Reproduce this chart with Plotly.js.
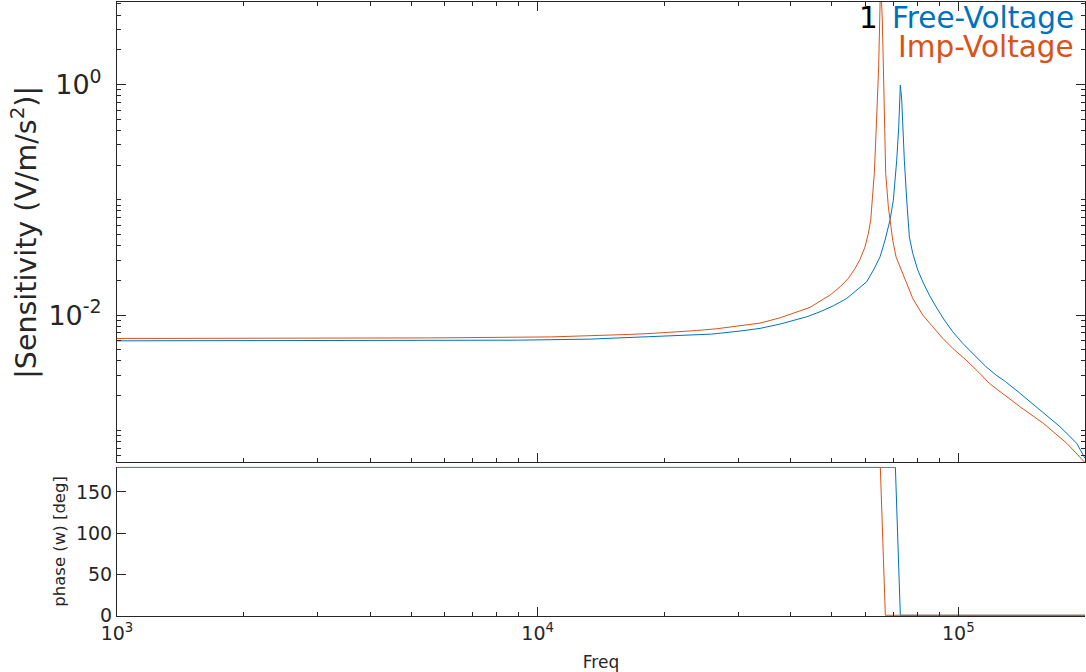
<!DOCTYPE html>
<html>
<head>
<meta charset="utf-8">
<script src="https://cdn.plot.ly/plotly-3.0.1.min.js"></script>
<style>html,body{margin:0;padding:0;background:#fff;}#chart{width:1086px;height:672px;}</style>
</head>
<body>
<div id="chart"></div>
<script>
// ---- Data ----
const freqFree = [1000, 8960, 13310, 17030, 22180, 25910, 30260, 33770, 37670, 40510, 43600, 46900, 50440, 54280, 57340, 60550, 62820, 65130, 66940, 68160, 68790, 70050, 71370, 72150, 72540, 72790, 73350, 73750, 74400, 75380, 76470, 77910, 80080, 82300, 85320, 88500, 92630, 96980, 102440, 109160, 116370, 122900, 129370, 140200, 156400, 174500, 191200, 200000];
const magFree  = [0.00598, 0.00606, 0.00619, 0.00640, 0.00661, 0.00684, 0.00727, 0.00767, 0.008356, 0.008925, 0.009667, 0.01068, 0.01204, 0.01395, 0.01647, 0.01944, 0.02455, 0.0320, 0.04468, 0.05829, 0.0667, 0.0994, 0.2209, 0.4296, 0.7322, 0.988, 0.7322, 0.4296, 0.2209, 0.0994, 0.04773, 0.03426, 0.02455, 0.01944, 0.01491, 0.01180, 0.009051, 0.007164, 0.005684, 0.004499, 0.003562, 0.003019, 0.002652, 0.002094, 0.001501, 0.001075, 0.000771, 0.000572];

const freqImp = [1000, 5560, 10790, 14060, 16560, 18820, 20970, 23880, 26630, 29720, 33770, 37670, 39790, 42030, 44390, 46900, 49540, 52330, 54760, 56810, 58380, 60000, 61100, 61900, 62230, 63120, 63710, 64300, 64650, 65010, 65310, 65960, 66310, 66680, 67190, 68160, 68800, 69820, 71100, 73080, 75110, 77910, 82300, 86930, 91820, 96980, 104300, 112200, 118530, 123600, 140200, 159300, 181100, 200000];
const magImp  = [0.00627, 0.00634, 0.00647, 0.00664, 0.00680, 0.00695, 0.00710, 0.00735, 0.00761, 0.00800, 0.00852, 0.009475, 0.01014, 0.01090, 0.01166, 0.01322, 0.01491, 0.01759, 0.02080, 0.02540, 0.03040, 0.03909, 0.05108, 0.06664, 0.0870, 0.1694, 0.3765, 0.782, 1.424, 3.62, 8.0, 3.62, 1.424, 0.3765, 0.1694, 0.0870, 0.0666, 0.04468, 0.0320, 0.02455, 0.01944, 0.01395, 0.0100, 0.00792, 0.006281, 0.005144, 0.004072, 0.00315, 0.002557, 0.002270, 0.001602, 0.00115, 0.000772, 0.000525];

const phaseFreqFree = [1000, 70840, 72790, 200000];
const phaseFree     = [180, 180, 0, 0];
const phaseFreqImp  = [1000, 65240, 67050, 200000];
const phaseImp      = [180, 180, 0, 0];

const seriesNames = ['Free-Voltage', 'Imp-Voltage'];
const magTitle = '|Sensitivity (V/m/s<sup>2</sup>)|';

// ---- Axis ticks ----
const xMajor = [1000, 10000, 100000];
const xMajorText = ['10<sup>3</sup>', '10<sup>4</sup>', '10<sup>5</sup>'];
const xMinor = [2000,3000,4000,5000,6000,7000,8000,9000,20000,30000,40000,50000,60000,70000,80000,90000,200000];
const yMajor = [0.01, 1];
const yMajorText = ['10<sup>-2</sup>', '10<sup>0</sup>'];
const yMinor = [0.0006,0.0007,0.0008,0.0009,0.001,0.002,0.003,0.004,0.005,0.006,0.007,0.008,0.009,0.02,0.03,0.04,0.05,0.06,0.07,0.08,0.09,0.1,0.2,0.3,0.4,0.5,0.6,0.7,0.8,0.9,2,3,4,5];
const phaseTicks = [0, 50, 100, 150];

const BLUE = '#0072BD', ORANGE = '#D95319', AX = '#262626';
const FONT = 'DejaVu Sans, Liberation Sans, sans-serif';

const traces = [
  {x: freqFree, y: magFree, xaxis: 'x', yaxis: 'y', mode: 'lines', name: seriesNames[0], line: {color: BLUE, width: 1}},
  {x: freqImp, y: magImp, xaxis: 'x', yaxis: 'y', mode: 'lines', name: seriesNames[1], line: {color: ORANGE, width: 1}},
  {x: phaseFreqFree, y: phaseFree, xaxis: 'x2', yaxis: 'y2', mode: 'lines', name: seriesNames[0], line: {color: BLUE, width: 1}},
  {x: phaseFreqImp, y: phaseImp, xaxis: 'x2', yaxis: 'y2', mode: 'lines', name: seriesNames[1], line: {color: ORANGE, width: 1}}
];

const xRange = [3, Math.log10(200000)];
const common = {showline: true, linecolor: AX, linewidth: 1, ticks: 'inside', tickcolor: AX, tickwidth: 1, showgrid: false, zeroline: false};

const layout = {
  width: 1086, height: 672,
  margin: {l: 117, r: 1, t: 2, b: 56},
  paper_bgcolor: '#fff', plot_bgcolor: '#fff',
  showlegend: false,
  font: {family: FONT, color: AX},
  xaxis: Object.assign({}, common, {
    type: 'log', range: xRange, domain: [0, 1], anchor: 'y',
    mirror: 'ticks', ticklen: 9, tickmode: 'array', tickvals: xMajor, showticklabels: false,
    minor: {ticks: 'inside', ticklen: 4, tickcolor: AX, tickmode: 'array', tickvals: xMinor, showgrid: false}
  }),
  yaxis: Object.assign({}, common, {
    type: 'log', range: [-3.277, 0.716], domain: [0.2503, 1], anchor: 'x',
    mirror: 'ticks', ticklen: 9, tickmode: 'array', tickvals: yMajor, ticktext: yMajorText,
    tickfont: {size: 27, color: AX, family: FONT}, ticklabelstandoff: 9,
    minor: {ticks: 'inside', ticklen: 4, tickcolor: AX, tickmode: 'array', tickvals: yMinor, showgrid: false}
  }),
  xaxis2: Object.assign({}, common, {
    type: 'log', range: xRange, domain: [0, 1], anchor: 'y2',
    ticklen: 9, tickmode: 'array', tickvals: xMajor, ticktext: xMajorText,
    tickfont: {size: 19, color: AX, family: FONT},
    minor: {ticks: 'inside', ticklen: 4, tickcolor: AX, tickmode: 'array', tickvals: xMinor, showgrid: false},
    title: {text: 'Freq', font: {size: 17, color: AX, family: FONT}, standoff: 13}
  }),
  yaxis2: Object.assign({}, common, {
    range: [-0.9, 180.6], domain: [0, 0.243], anchor: 'x2',
    ticklen: 9, tickmode: 'array', tickvals: phaseTicks,
    tickfont: {size: 19, color: AX, family: FONT},
    title: {text: 'phase (w) [deg]', font: {size: 16.5, color: AX, family: FONT}, standoff: 6}
  }),
  annotations: [
    {xref: 'paper', yref: 'paper', x: -0.0963, y: 0.6254, xanchor: 'center', yanchor: 'middle', textangle: -90, showarrow: false, text: magTitle, font: {size: 28.5, color: AX, family: FONT}},
    {xref: 'paper', yref: 'paper', x: 0.7879, y: 0.974, xanchor: 'right', yanchor: 'middle', showarrow: false, text: '1', font: {size: 29.5, color: '#000', family: FONT}},
    {xref: 'paper', yref: 'paper', x: 0.9902, y: 0.974, xanchor: 'right', yanchor: 'middle', showarrow: false, text: seriesNames[0], font: {size: 29.5, color: BLUE, family: FONT}},
    {xref: 'paper', yref: 'paper', x: 0.9902, y: 0.926, xanchor: 'right', yanchor: 'middle', showarrow: false, text: seriesNames[1], font: {size: 29.5, color: ORANGE, family: FONT}}
  ]
};

Plotly.newPlot('chart', traces, layout, {displayModeBar: false, staticPlot: true});
</script>
</body>
</html>
